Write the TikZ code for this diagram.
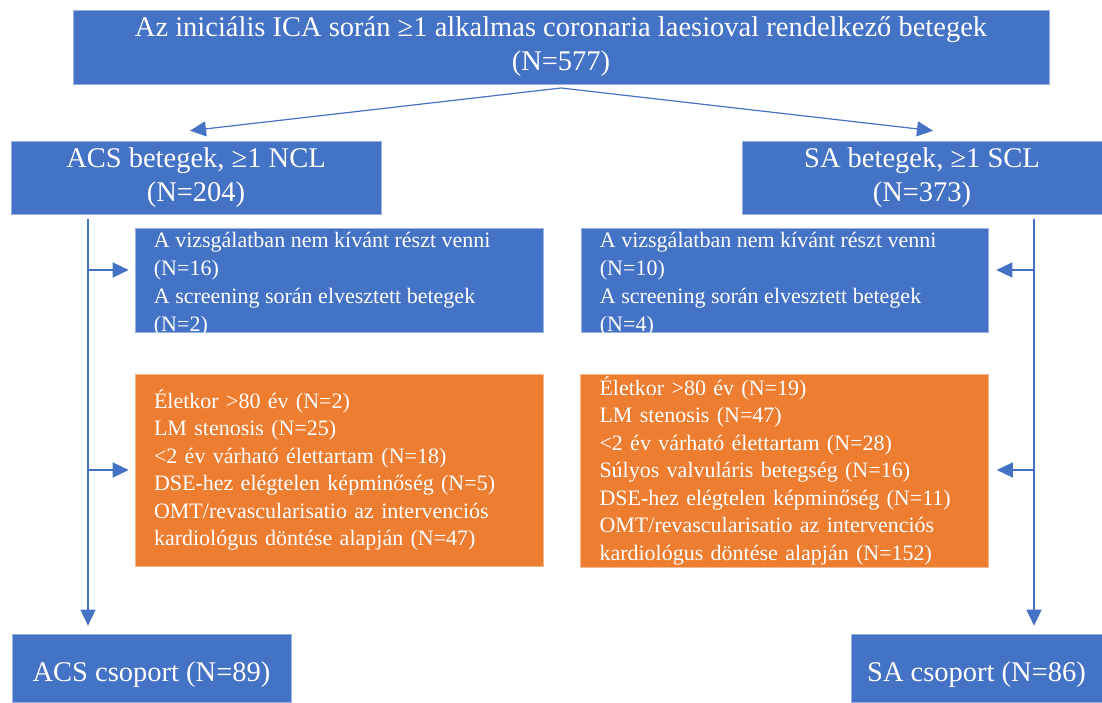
\documentclass[tikz,border=0pt]{standalone}
\usepackage{fontspec}
\setmainfont{Liberation Serif}
\usepackage{xcolor}
\usepackage{tikz}
\usetikzlibrary{
    arrows.meta,
    positioning
}
\definecolor{flowblue}{HTML}{4472C4}
\definecolor{floworange}{HTML}{ED7D31}

\begin{document}
\begin{tikzpicture}[
    x=1pt, y=-1pt,
    headbox/.style={rectangle, draw=flowblue!55!white, line width=0.6pt, fill=flowblue, text=white, align=center, font=\fontsize{28.5}{34}\selectfont, execute at begin node={\rule{0pt}{33pt}}},
    lossbox/.style={rectangle, draw=flowblue!55!white, line width=0.6pt, fill=flowblue, minimum width=408pt, minimum height=104pt},
    losstext/.style={anchor=north west, text=white, align=left, inner sep=0pt, font=\fontsize{22}{28}\selectfont},
    exclbox/.style={rectangle, draw=floworange!55!white, line width=0.6pt, fill=floworange, text=white, align=left, text width=370pt, inner xsep=19pt, inner ysep=0pt, font=\fontsize{22}{27.5}\selectfont},
    flow/.style={-{Triangle[length=16pt, width=15pt]}, line width=1.5pt, flowblue},
]
    \useasboundingbox (0,0) rectangle (1102,702);

    % Top
    \node[headbox, minimum width=976pt, minimum height=74pt] (all) at (561,47)
        {Az iniciális ICA során ≥1 alkalmas coronaria laesioval rendelkező betegek\\(N=577)};

    % ACS branch
    \node[headbox, minimum width=370pt, minimum height=73pt] (acs) at (196,177.5) {ACS betegek, ≥1 NCL\\(N=204)};
    \node[lossbox] (acsloss) at (339,280) {};
    \node[losstext] (acslosstext) at ([xshift=19pt, yshift=-4pt]acsloss.north west)
        {A vizsgálatban nem kívánt részt venni\\(N=16)\\A screening során elvesztett betegek\\(N=2)};
    \node[exclbox, minimum height=192pt] (acsexcl) at (339,470)
        {Életkor >80 év (N=2)\\LM stenosis (N=25)\\<2 év várható élettartam (N=18)\\DSE-hez elégtelen képminőség (N=5)\\OMT/revascularisatio az intervenciós\\kardiológus döntése alapján (N=47)};
    \node[headbox, minimum width=279pt, minimum height=68pt] (acsgrp) at (151.5,668) {ACS csoport (N=89)};

    % SA branch
    \node[headbox, minimum width=360pt, minimum height=73pt] (sa) at (922,177.5) {SA betegek, ≥1 SCL\\(N=373)};
    \node[lossbox, minimum width=407pt] (saloss) at (784.5,280) {};
    \node[losstext] (salosstext) at ([xshift=19pt, yshift=-4pt]saloss.north west)
        {A vizsgálatban nem kívánt részt venni\\(N=10)\\A screening során elvesztett betegek\\(N=4)};
    \node[exclbox, minimum height=193pt] (saexcl) at (784.5,470.5)
        {Életkor >80 év (N=19)\\LM stenosis (N=47)\\<2 év várható élettartam (N=28)\\Súlyos valvuláris betegség (N=16)\\DSE-hez elégtelen képminőség (N=11)\\OMT/revascularisatio az intervenciós\\kardiológus döntése alapján (N=152)};
    \node[headbox, minimum width=251pt, minimum height=68pt] (sagrp) at (976.5,668) {SA csoport (N=86)};

    % Connectors
    \coordinate (split) at (561,88);
    \draw[flow, line width=1.2pt] (split) -- ([xshift=-6pt, yshift=10pt]acs.north);
    \draw[flow, line width=1.2pt] (split) -- ([xshift=11pt, yshift=10pt]sa.north);

    \coordinate (acstrunk) at (88,219);
    \coordinate (acsout1) at (88,270);
    \coordinate (acsout2) at (88,470);
    \draw[flow, shorten >=8pt] (acstrunk) -- (acstrunk |- acsgrp.north);
    \draw[flow, shorten >=6pt] (acsout1) -- (acsout1 -| acsloss.west);
    \draw[flow, shorten >=6pt] (acsout2) -- (acsout2 -| acsexcl.west);

    \coordinate (satrunk) at (1034,219);
    \coordinate (saout1) at (1034,270);
    \coordinate (saout2) at (1034,470);
    \draw[flow, shorten >=8pt] (satrunk) -- (satrunk |- sagrp.north);
    \draw[flow, shorten >=8pt] (saout1) -- (saout1 -| saloss.east);
    \draw[flow, shorten >=8pt] (saout2) -- (saout2 -| saexcl.east);

\end{tikzpicture}
\end{document}
